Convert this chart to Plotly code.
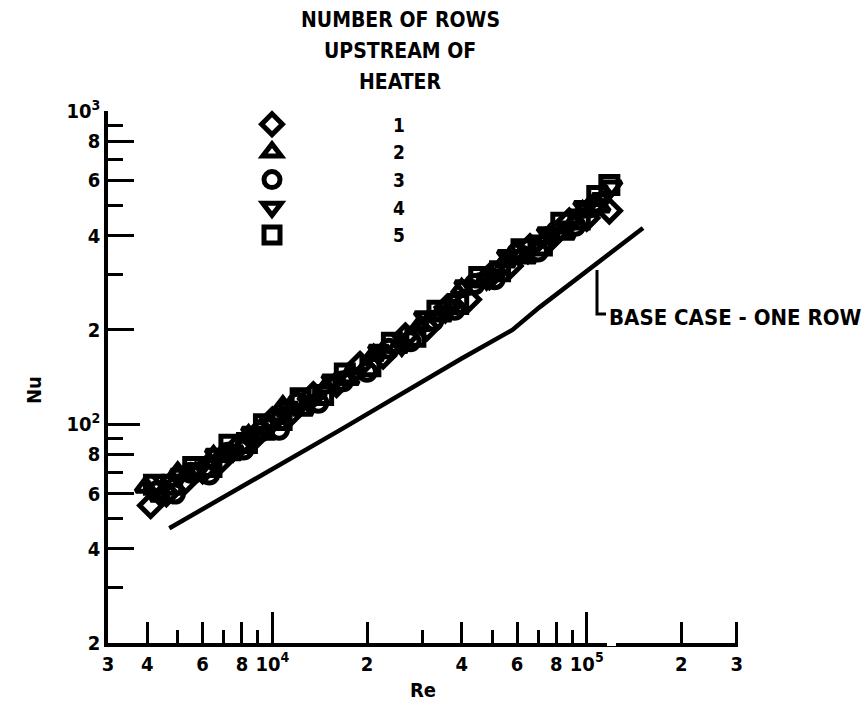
import math
import plotly.graph_objects as go

# ---------------- data ----------------
re_1 = [4100, 4600, 5300, 6000, 6900, 7800, 8800, 10000, 11500, 13500, 16000, 19000,
        22500, 26500, 31000, 36000, 42000, 49000, 57000, 66000, 76000, 88000, 100000, 118000]
nu_1 = [55, 60, 66, 71, 77, 85, 91, 103, 109, 124, 134, 155,
        165, 191, 203, 236, 250, 296, 320, 368, 388, 445, 455, 480]

re_2 = [3950, 4400, 5000, 5700, 6500, 7400, 8400, 9500, 10800, 12500, 14800, 17500,
        21000, 25000, 29500, 34500, 40000, 47000, 55000, 64000, 74000, 85000, 97000, 110000]
nu_2 = [63, 59, 70, 70, 79, 80, 92, 93, 114, 111, 131, 139,
        166, 176, 207, 222, 270, 285, 330, 340, 392, 405, 478, 495]

re_3 = [4300, 4900, 5500, 6300, 7200, 8100, 9200, 10500, 12000, 14000, 16800, 20000,
        23500, 27500, 32500, 38000, 44000, 51000, 60000, 70000, 80000, 92000, 105000]
nu_3 = [61, 60, 70, 69, 81, 83, 95, 96, 117, 117, 137, 147,
        174, 184, 214, 232, 280, 290, 352, 356, 412, 430, 495]

re_4 = [4500, 5100, 5800, 6600, 7500, 8600, 9800, 11200, 13000, 15500, 18300, 21800,
        25800, 30500, 35500, 41000, 48000, 56000, 65000, 75000, 86000, 98000, 112000, 120000]
nu_4 = [66, 69, 71, 80, 82, 94, 100, 113, 118, 138, 145, 172,
        178, 220, 228, 276, 290, 345, 352, 408, 425, 495, 525, 575]

re_5 = [4200, 4800, 5600, 6400, 7300, 8300, 9400, 10700, 12300, 14500, 17000, 20500,
        24000, 28500, 33500, 39000, 45500, 53000, 62000, 72000, 83000, 95000, 108000, 118000]
nu_5 = [64, 64, 73, 73, 86, 87, 100, 103, 121, 124, 145, 153,
        182, 190, 230, 242, 295, 308, 362, 372, 440, 450, 535, 580]

base_re = [4700, 16400, 40000, 58000, 70700, 151000]
base_nu = [46.5, 95.7, 162, 200, 236, 423]

series_names = ["1", "2", "3", "4", "5"]
series_re = [re_1, re_2, re_3, re_4, re_5]
series_nu = [nu_1, nu_2, nu_3, nu_4, nu_5]

x_tickvals = [3e3, 4e3, 6e3, 8e3, 1e4, 2e4, 4e4, 6e4, 8e4, 1e5, 2e5, 3e5]
x_ticktext = ["3", "4", "6", "8", "10<sup>4</sup>", "2", "4", "6", "8", "10<sup>5</sup>", "2", "3"]
x_minor = [5e3, 7e3, 9e3, 3e4, 5e4, 7e4, 9e4]
x_decades = [1e4, 1e5]

y_tickvals = [20, 40, 60, 80, 100, 200, 400, 600, 800, 1000]
y_ticktext = ["2", "4", "6", "8", "10<sup>2</sup>", "2", "4", "6", "8", "10<sup>3</sup>"]
y_minor = [30, 50, 70, 90, 300, 500, 700, 900]
y_decades = [100, 1000]

legend_title = ["NUMBER OF ROWS", "UPSTREAM OF", "HEATER"]
base_label = "BASE CASE - ONE ROW"

# ---------------- style ----------------
FONT = "DejaVu Sans Condensed, Liberation Sans Narrow, Arial Narrow, sans-serif"
symbols = ["diamond-open", "triangle-up-open", "circle-open", "triangle-down-open", "square-open"]
W, H = 867, 718
L, R, T, B = 108, 129, 111, 75
xr = [math.log10(3000), math.log10(3e5) + 0.004]
yr = [math.log10(20), math.log10(1000)]

fig = go.Figure()

for name, xs, ys, sym in zip(series_names, series_re, series_nu, symbols):
    fig.add_trace(go.Scatter(
        x=xs, y=ys, mode="markers", name="\u00a0" * 17 + name,
        marker=dict(symbol=sym, size=17, color="black",
                    line=dict(color="black", width=5)),
    ))

fig.add_trace(go.Scatter(x=base_re, y=base_nu, mode="lines", showlegend=False,
                         line=dict(color="black", width=4.5)))

# empty traces so the overlay axes for the long decade ticks are drawn
fig.add_trace(go.Scatter(x=[], y=[], xaxis="x2", yaxis="y", showlegend=False))
fig.add_trace(go.Scatter(x=[], y=[], xaxis="x", yaxis="y2", showlegend=False))

tickfont = dict(family=FONT, size=20, color="black", weight="bold")

fig.update_layout(
    width=W, height=H,
    margin=dict(l=L, r=R, t=T, b=B),
    paper_bgcolor="white", plot_bgcolor="white",
    font=dict(family=FONT, color="black", weight="bold"),
    xaxis=dict(type="log", range=xr, showgrid=False, zeroline=False,
               showline=True, linecolor="black", linewidth=3.5,
               ticks="inside", ticklen=21, tickwidth=3, tickcolor="black",
               tickvals=x_tickvals, ticktext=x_ticktext, tickfont=tickfont,
               minor=dict(tickvals=x_minor, ticks="inside", ticklen=13,
                          tickwidth=3, tickcolor="black", showgrid=False)),
    xaxis2=dict(type="log", range=xr, overlaying="x", anchor="y", side="bottom",
                showgrid=False, zeroline=False, showline=False,
                ticks="inside", ticklen=31, tickwidth=3, tickcolor="black",
                tickvals=x_decades, showticklabels=False),
    yaxis=dict(type="log", range=yr, showgrid=False, zeroline=False,
               showline=True, linecolor="black", linewidth=3.5,
               ticks="inside", ticklen=26, tickwidth=3, tickcolor="black",
               tickvals=y_tickvals, ticktext=y_ticktext, tickfont=tickfont,
               minor=dict(tickvals=y_minor, ticks="inside", ticklen=15,
                          tickwidth=3, tickcolor="black", showgrid=False)),
    yaxis2=dict(type="log", range=yr, overlaying="y", anchor="x", side="left",
                showgrid=False, zeroline=False, showline=False,
                ticks="inside", ticklen=32, tickwidth=3, tickcolor="black",
                tickvals=y_decades, showticklabels=False),
    legend=dict(x=(252 - L) / (W - L - R), y=1.0106, xanchor="left", yanchor="top",
                bgcolor="rgba(0,0,0,0)", borderwidth=0,
                font=dict(family=FONT, size=19, color="black", weight="bold")),
    showlegend=True,
)

pw, ph = W - L - R, H - T - B
def px(xp):
    return (xp - L) / pw
def py(yp):
    return (H - B - yp) / ph

anns = []
for txt, yp in zip(legend_title, [20, 51, 82]):
    anns.append(dict(text=txt, x=px(400), y=py(yp), xref="paper", yref="paper",
                     xanchor="center", yanchor="middle", showarrow=False,
                     font=dict(family=FONT, size=21, color="black", weight="bold")))
anns.append(dict(text="Re", x=px(423), y=py(690), xref="paper", yref="paper",
                 xanchor="center", yanchor="middle", showarrow=False,
                 font=dict(family=FONT, size=20, color="black", weight="bold")))
anns.append(dict(text="Nu", x=px(34), y=py(390), xref="paper", yref="paper",
                 xanchor="center", yanchor="middle", showarrow=False, textangle=-90,
                 font=dict(family=FONT, size=20, color="black", weight="bold")))
anns.append(dict(text=base_label, x=px(607), y=py(317), xref="paper", yref="paper",
                 xanchor="left", yanchor="middle", showarrow=False,
                 font=dict(family=FONT, size=22, color="black", weight="bold")))
fig.update_layout(annotations=anns)

fig.update_layout(shapes=[
    dict(type="path", xref="paper", yref="paper",
         path=f"M {px(597)} {py(270)} L {px(597)} {py(314)} L {px(606)} {py(314)}",
         line=dict(color="black", width=3)),
    dict(type="line", xref="paper", yref="paper", x0=px(607), x1=px(616),
         y0=0, y1=0, line=dict(color="white", width=6), layer="above"),
])

fig.write_html("out.html")
